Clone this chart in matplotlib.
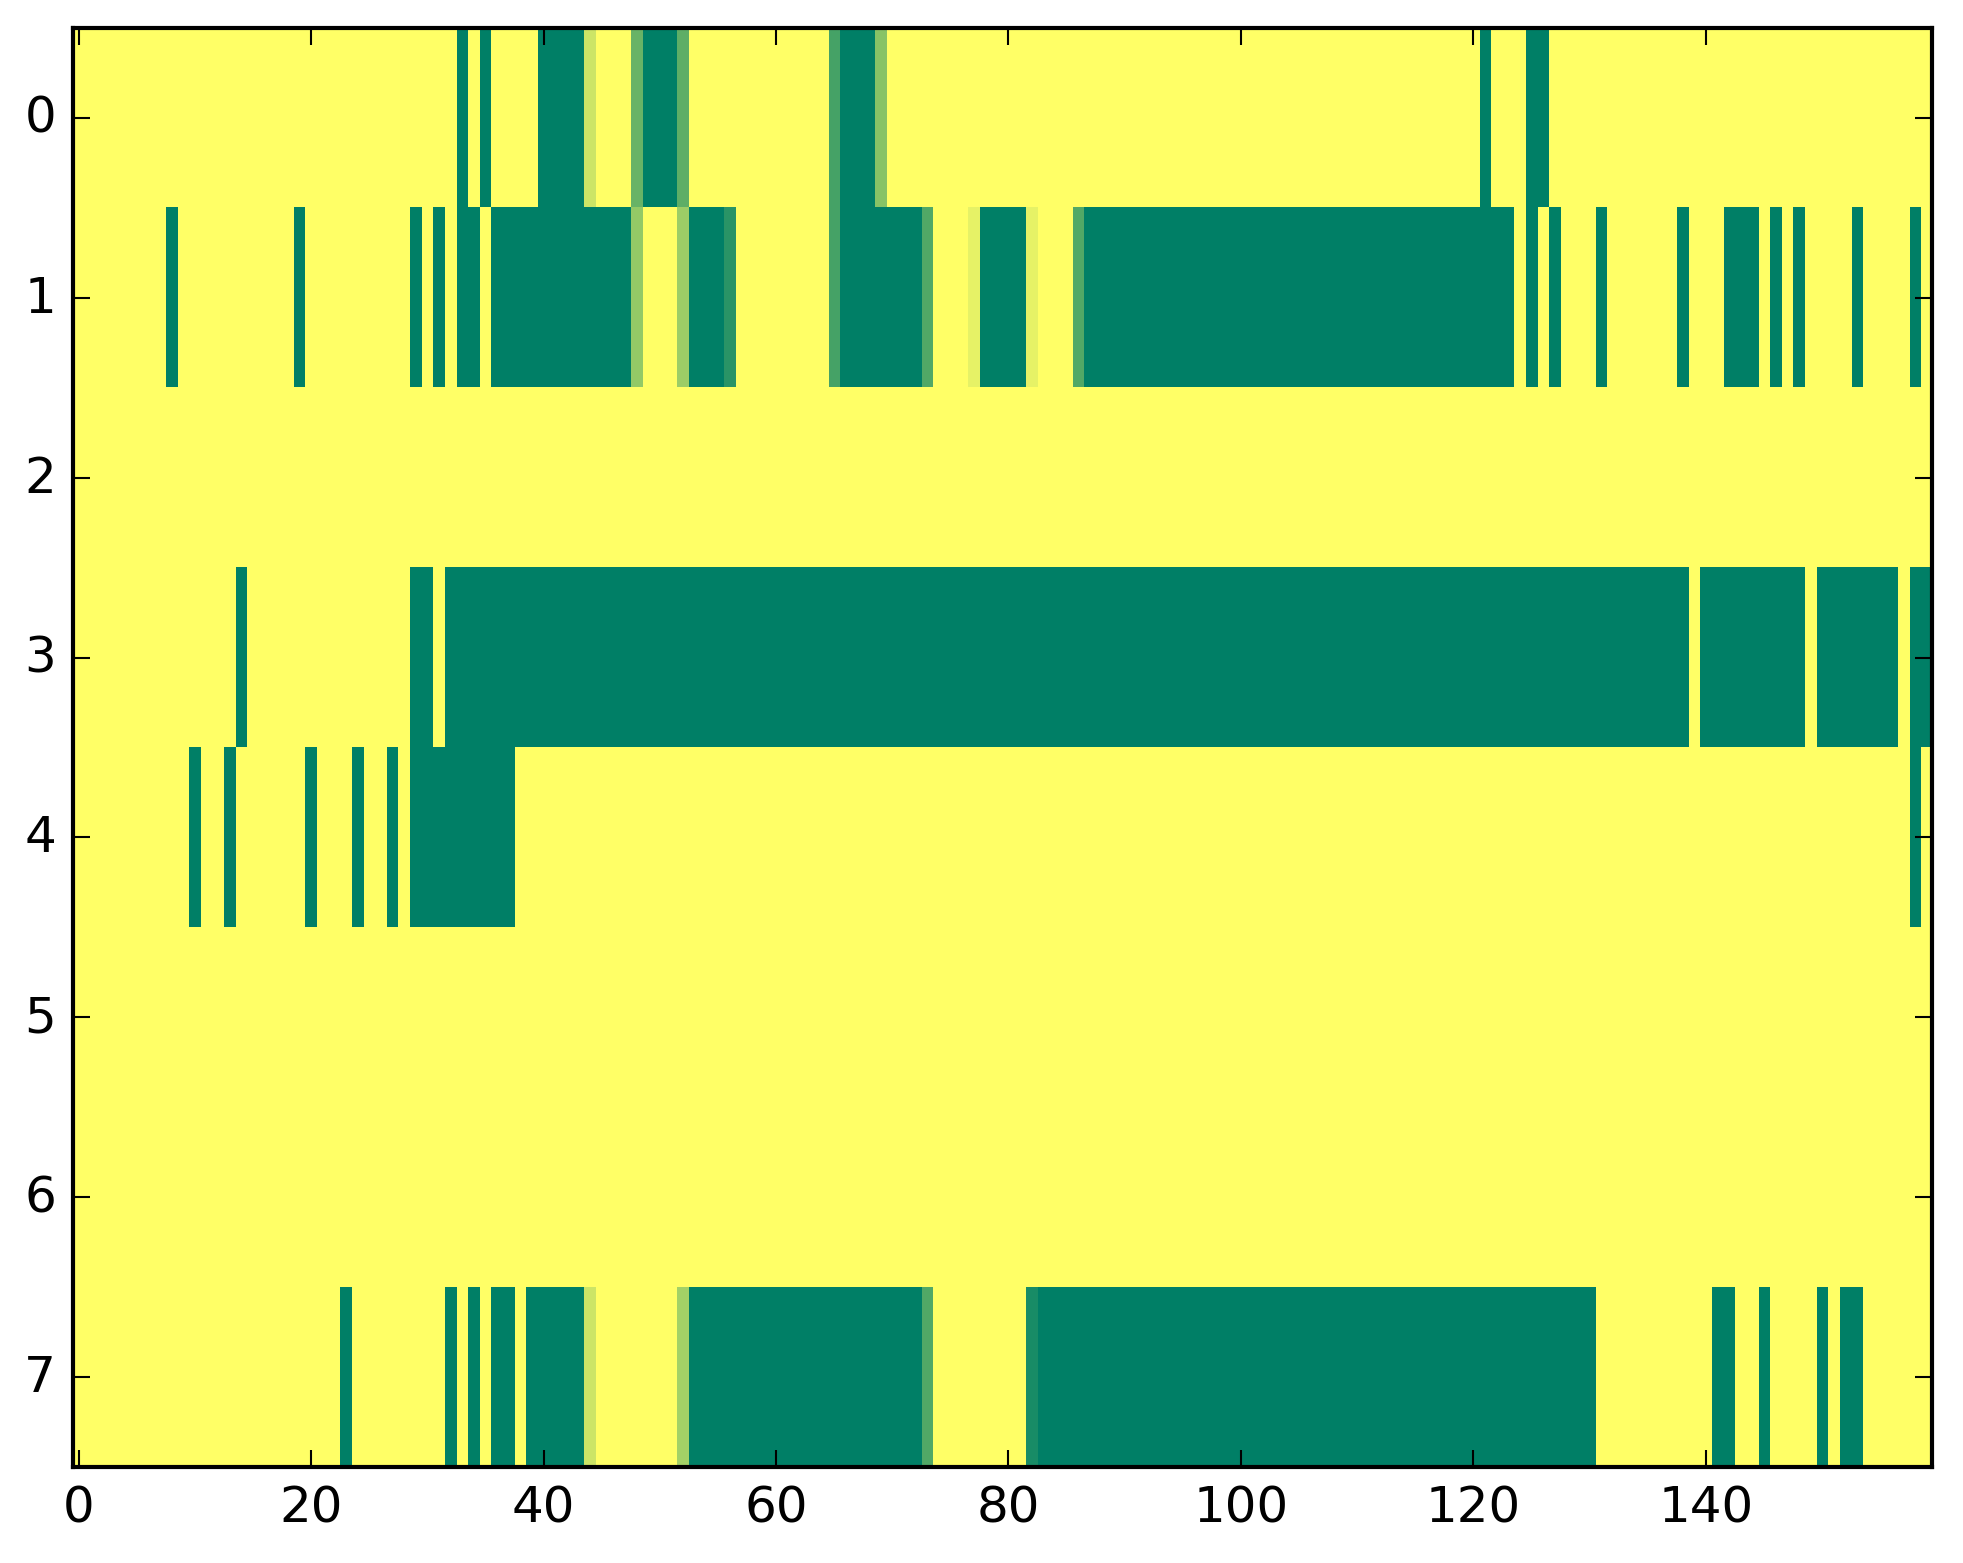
import matplotlib
matplotlib.use('Agg')
import matplotlib.pyplot as plt
import numpy as np

# one list per row, 160 columns; 0 = yellow, 1 = dark green
row_0 = [0, 0, 0, 0, 0, 0, 0, 0, 0, 0, 0, 0, 0, 0, 0, 0, 0, 0, 0, 0,
         0, 0, 0, 0, 0, 0, 0, 0, 0, 0, 0, 0, 0, 1, 0, 1, 0, 0, 0, 0,
         1, 1, 1, 1, .2, 0, 0, 0, .59, 1, 1, 1, .63, 0, 0, 0, 0, 0, 0, 0,
         0, 0, 0, 0, 0, .73, 1, 1, 1, .47, 0, 0, 0, 0, 0, 0, 0, 0, 0, 0,
         0, 0, 0, 0, 0, 0, 0, 0, 0, 0, 0, 0, 0, 0, 0, 0, 0, 0, 0, 0,
         0, 0, 0, 0, 0, 0, 0, 0, 0, 0, 0, 0, 0, 0, 0, 0, 0, 0, 0, 0,
         0, 1, 0, 0, 0, 1, 1, 0, 0, 0, 0, 0, 0, 0, 0, 0, 0, 0, 0, 0,
         0, 0, 0, 0, 0, 0, 0, 0, 0, 0, 0, 0, 0, 0, 0, 0, 0, 0, 0, 0]

row_1 = [0, 0, 0, 0, 0, 0, 0, 0, 1, 0, 0, 0, 0, 0, 0, 0, 0, 0, 0, 1,
         0, 0, 0, 0, 0, 0, 0, 0, 0, 1, 0, 1, 0, 1, 1, 0, 1, 1, 1, 1,
         1, 1, 1, 1, 1, 1, 1, 1, .42, 0, 0, 0, .39, 1, 1, 1, .835, 0, 0, 0,
         0, 0, 0, 0, 0, .73, 1, 1, 1, 1, 1, 1, 1, .68, 0, 0, 0, .1, 1, 1,
         1, 1, .1, 0, 0, 0, .68, 1, 1, 1, 1, 1, 1, 1, 1, 1, 1, 1, 1, 1,
         1, 1, 1, 1, 1, 1, 1, 1, 1, 1, 1, 1, 1, 1, 1, 1, 1, 1, 1, 1,
         1, 1, 1, 1, 0, 1, 0, 1, 0, 0, 0, 1, 0, 0, 0, 0, 0, 0, 1, 0,
         0, 0, 1, 1, 1, 0, 1, 0, 1, 0, 0, 0, 0, 1, 0, 0, 0, 0, 1, 0]

row_2 = [0, 0, 0, 0, 0, 0, 0, 0, 0, 0, 0, 0, 0, 0, 0, 0, 0, 0, 0, 0,
         0, 0, 0, 0, 0, 0, 0, 0, 0, 0, 0, 0, 0, 0, 0, 0, 0, 0, 0, 0,
         0, 0, 0, 0, 0, 0, 0, 0, 0, 0, 0, 0, 0, 0, 0, 0, 0, 0, 0, 0,
         0, 0, 0, 0, 0, 0, 0, 0, 0, 0, 0, 0, 0, 0, 0, 0, 0, 0, 0, 0,
         0, 0, 0, 0, 0, 0, 0, 0, 0, 0, 0, 0, 0, 0, 0, 0, 0, 0, 0, 0,
         0, 0, 0, 0, 0, 0, 0, 0, 0, 0, 0, 0, 0, 0, 0, 0, 0, 0, 0, 0,
         0, 0, 0, 0, 0, 0, 0, 0, 0, 0, 0, 0, 0, 0, 0, 0, 0, 0, 0, 0,
         0, 0, 0, 0, 0, 0, 0, 0, 0, 0, 0, 0, 0, 0, 0, 0, 0, 0, 0, 0]

row_3 = [0, 0, 0, 0, 0, 0, 0, 0, 0, 0, 0, 0, 0, 0, 1, 0, 0, 0, 0, 0,
         0, 0, 0, 0, 0, 0, 0, 0, 0, 1, 1, 0, 1, 1, 1, 1, 1, 1, 1, 1,
         1, 1, 1, 1, 1, 1, 1, 1, 1, 1, 1, 1, 1, 1, 1, 1, 1, 1, 1, 1,
         1, 1, 1, 1, 1, 1, 1, 1, 1, 1, 1, 1, 1, 1, 1, 1, 1, 1, 1, 1,
         1, 1, 1, 1, 1, 1, 1, 1, 1, 1, 1, 1, 1, 1, 1, 1, 1, 1, 1, 1,
         1, 1, 1, 1, 1, 1, 1, 1, 1, 1, 1, 1, 1, 1, 1, 1, 1, 1, 1, 1,
         1, 1, 1, 1, 1, 1, 1, 1, 1, 1, 1, 1, 1, 1, 1, 1, 1, 1, 1, 0,
         1, 1, 1, 1, 1, 1, 1, 1, 1, 0, 1, 1, 1, 1, 1, 1, 1, 0, 1, 1]

row_4 = [0, 0, 0, 0, 0, 0, 0, 0, 0, 0, 1, 0, 0, 1, 0, 0, 0, 0, 0, 0,
         1, 0, 0, 0, 1, 0, 0, 1, 0, 1, 1, 1, 1, 1, 1, 1, 1, 1, 0, 0,
         0, 0, 0, 0, 0, 0, 0, 0, 0, 0, 0, 0, 0, 0, 0, 0, 0, 0, 0, 0,
         0, 0, 0, 0, 0, 0, 0, 0, 0, 0, 0, 0, 0, 0, 0, 0, 0, 0, 0, 0,
         0, 0, 0, 0, 0, 0, 0, 0, 0, 0, 0, 0, 0, 0, 0, 0, 0, 0, 0, 0,
         0, 0, 0, 0, 0, 0, 0, 0, 0, 0, 0, 0, 0, 0, 0, 0, 0, 0, 0, 0,
         0, 0, 0, 0, 0, 0, 0, 0, 0, 0, 0, 0, 0, 0, 0, 0, 0, 0, 0, 0,
         0, 0, 0, 0, 0, 0, 0, 0, 0, 0, 0, 0, 0, 0, 0, 0, 0, 0, 1, 0]

row_5 = [0, 0, 0, 0, 0, 0, 0, 0, 0, 0, 0, 0, 0, 0, 0, 0, 0, 0, 0, 0,
         0, 0, 0, 0, 0, 0, 0, 0, 0, 0, 0, 0, 0, 0, 0, 0, 0, 0, 0, 0,
         0, 0, 0, 0, 0, 0, 0, 0, 0, 0, 0, 0, 0, 0, 0, 0, 0, 0, 0, 0,
         0, 0, 0, 0, 0, 0, 0, 0, 0, 0, 0, 0, 0, 0, 0, 0, 0, 0, 0, 0,
         0, 0, 0, 0, 0, 0, 0, 0, 0, 0, 0, 0, 0, 0, 0, 0, 0, 0, 0, 0,
         0, 0, 0, 0, 0, 0, 0, 0, 0, 0, 0, 0, 0, 0, 0, 0, 0, 0, 0, 0,
         0, 0, 0, 0, 0, 0, 0, 0, 0, 0, 0, 0, 0, 0, 0, 0, 0, 0, 0, 0,
         0, 0, 0, 0, 0, 0, 0, 0, 0, 0, 0, 0, 0, 0, 0, 0, 0, 0, 0, 0]

row_6 = [0, 0, 0, 0, 0, 0, 0, 0, 0, 0, 0, 0, 0, 0, 0, 0, 0, 0, 0, 0,
         0, 0, 0, 0, 0, 0, 0, 0, 0, 0, 0, 0, 0, 0, 0, 0, 0, 0, 0, 0,
         0, 0, 0, 0, 0, 0, 0, 0, 0, 0, 0, 0, 0, 0, 0, 0, 0, 0, 0, 0,
         0, 0, 0, 0, 0, 0, 0, 0, 0, 0, 0, 0, 0, 0, 0, 0, 0, 0, 0, 0,
         0, 0, 0, 0, 0, 0, 0, 0, 0, 0, 0, 0, 0, 0, 0, 0, 0, 0, 0, 0,
         0, 0, 0, 0, 0, 0, 0, 0, 0, 0, 0, 0, 0, 0, 0, 0, 0, 0, 0, 0,
         0, 0, 0, 0, 0, 0, 0, 0, 0, 0, 0, 0, 0, 0, 0, 0, 0, 0, 0, 0,
         0, 0, 0, 0, 0, 0, 0, 0, 0, 0, 0, 0, 0, 0, 0, 0, 0, 0, 0, 0]

row_7 = [0, 0, 0, 0, 0, 0, 0, 0, 0, 0, 0, 0, 0, 0, 0, 0, 0, 0, 0, 0,
         0, 0, 0, 1, 0, 0, 0, 0, 0, 0, 0, 0, 1, 0, 1, 0, 1, 1, 0, 1,
         1, 1, 1, 1, .2, 0, 0, 0, 0, 0, 0, 0, .36, 1, 1, 1, 1, 1, 1, 1,
         1, 1, 1, 1, 1, 1, 1, 1, 1, 1, 1, 1, 1, .68, 0, 0, 0, 0, 0, 0,
         0, 0, .9, 1, 1, 1, 1, 1, 1, 1, 1, 1, 1, 1, 1, 1, 1, 1, 1, 1,
         1, 1, 1, 1, 1, 1, 1, 1, 1, 1, 1, 1, 1, 1, 1, 1, 1, 1, 1, 1,
         1, 1, 1, 1, 1, 1, 1, 1, 1, 1, 1, 0, 0, 0, 0, 0, 0, 0, 0, 0,
         0, 1, 1, 0, 0, 1, 0, 0, 0, 0, 1, 0, 1, 1, 0, 0, 0, 0, 0, 0]

x_ticks = [0, 20, 40, 60, 80, 100, 120, 140]
y_ticks = [0, 1, 2, 3, 4, 5, 6, 7]

grid = np.array([row_0, row_1, row_2, row_3, row_4, row_5, row_6, row_7], dtype=float)

plt.style.use('classic')
fig = plt.figure(figsize=(1963 / 300, 1564 / 300), dpi=300, facecolor='white')
ax = fig.add_axes([0.0371, 0.0614, 0.9473, 0.9201])
ax.imshow(grid, cmap='summer_r', vmin=0, vmax=1, aspect='auto', interpolation='nearest')
ax.set_xticks(x_ticks)
ax.set_yticks(y_ticks)

fig.savefig('out.png', dpi=300, facecolor='white')
